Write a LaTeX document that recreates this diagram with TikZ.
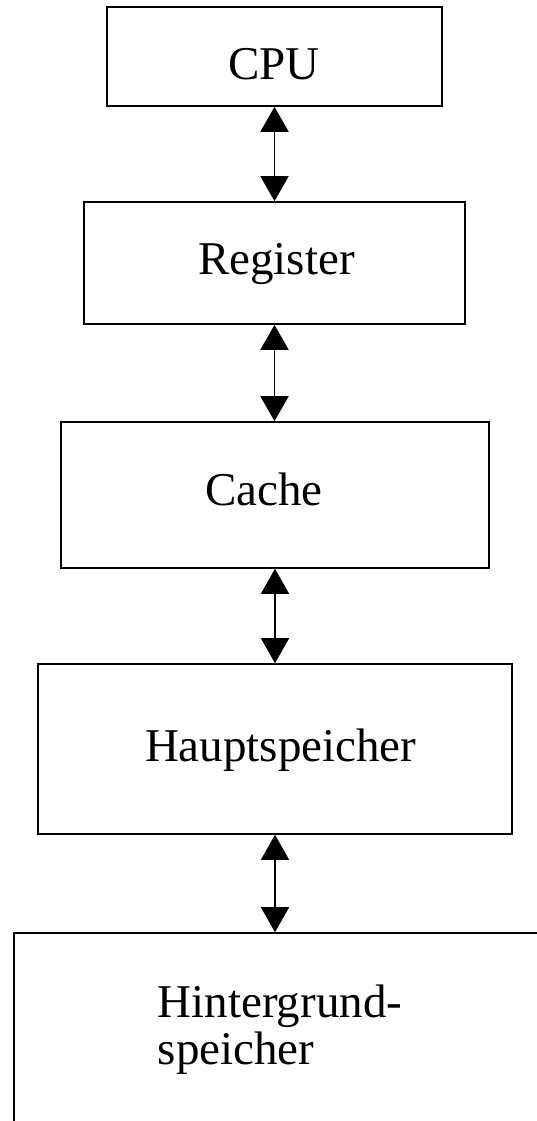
\documentclass[tikz,border=0pt]{standalone}
\usepackage{fontspec}
\setmainfont{Liberation Serif}
\usetikzlibrary{arrows.meta}
\tikzset{>={Triangle[width=28pt,length=25pt]}}

\begin{document}
\begin{tikzpicture}[x=1pt, y=-1pt, font=\fontsize{47}{47}\selectfont,
  speicher/.style={draw, line width=1.6pt, inner sep=0pt, align=left},
  pfeil/.style={<->, line width=1.6pt}]
\useasboundingbox (0,0) rectangle (537,1121);
\clip (0,0) rectangle (537,1121);
\node[speicher, minimum width=335pt, minimum height=99pt, text width=93pt, text height=47pt, text depth=0pt] (cpu) at (274.5,56.5) {CPU};
\node[speicher, minimum width=381pt, minimum height=122pt, text width=153pt, text height=34pt, text depth=12pt] (reg) at (274.5,263) {Register};
\node[speicher, minimum width=428pt, minimum height=146pt, text width=140pt, text height=34pt, text depth=14pt] (cache) at (275,495) {Cache};
\node[speicher, minimum width=474pt, minimum height=170pt, text width=260pt, text height=34pt, text depth=10pt] (haupt) at (275,749) {Hauptspeicher};
\node[speicher, minimum width=532pt, minimum height=204pt, text depth=20pt] (hinter) at (280,1035) {\begin{tabular}[b]{@{}l@{}}Hintergrund-\\speicher\end{tabular}};
\draw[pfeil] (cpu.south) -- (cpu.south |- reg.north);
\draw[pfeil] (reg.south) -- (reg.south |- cache.north);
\draw[pfeil] (cache.south) -- (cache.south |- haupt.north);
\draw[pfeil] (haupt.south) -- (haupt.south |- hinter.north);
\end{tikzpicture}
\end{document}
